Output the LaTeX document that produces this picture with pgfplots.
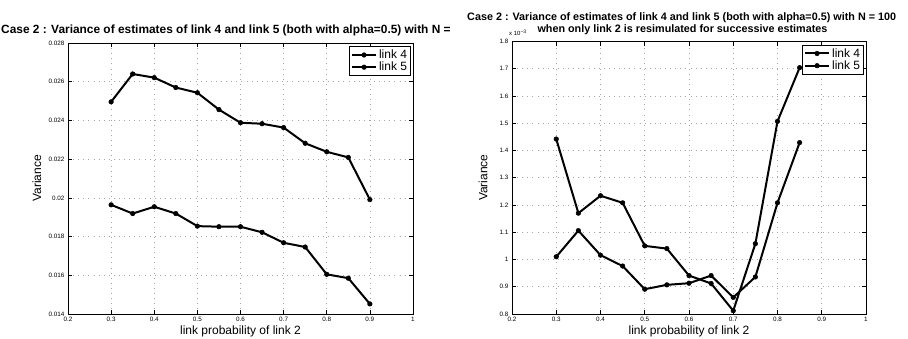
\documentclass[border=0pt]{standalone}
\usepackage{fontspec}
\setmainfont{Liberation Sans}
\usepackage{pgfplots}
\usepackage{pgfplotstable}
\pgfplotsset{compat=1.18}

\pgfplotstableread{
x y
0.30 0.02496
0.35 0.02640
0.40 0.02621
0.45 0.02570
0.50 0.02543
0.55 0.02456
0.60 0.02388
0.65 0.02383
0.70 0.02363
0.75 0.02282
0.80 0.02238
0.85 0.02209
0.90 0.01991
}\leftA
\pgfplotstableread{
x y
0.30 0.01964
0.35 0.01919
0.40 0.01954
0.45 0.01919
0.50 0.01854
0.55 0.01851
0.60 0.01851
0.65 0.01822
0.70 0.01768
0.75 0.01746
0.80 0.01605
0.85 0.01585
0.90 0.01452
}\leftB
\pgfplotstableread{
x y
0.30 1.442
0.35 1.170
0.40 1.234
0.45 1.208
0.50 1.050
0.55 1.040
0.60 0.941
0.65 0.912
0.70 0.812
0.75 1.058
0.80 1.507
0.85 1.704
}\rightA
\pgfplotstableread{
x y
0.30 1.010
0.35 1.106
0.40 1.016
0.45 0.976
0.50 0.891
0.55 0.907
0.60 0.913
0.65 0.941
0.70 0.861
0.75 0.936
0.80 1.208
0.85 1.429
}\rightB

\pgfplotsset{
  ser/.style={black, line width=2pt, mark=*, mark size=2.3pt,
      mark options={solid, fill=black, line width=0.5pt}},
  matlab/.style={
    scale only axis,
    xmin=0.2, xmax=1,
    xtick={0.2,0.3,0.4,0.5,0.6,0.7,0.8,0.9,1},
    axis line style={line width=0.8pt},
    tick style={black, line width=0.6pt},
    major tick length=4pt,
    tick align=inside,
    grid=major,
    grid style={black!35, line width=0.6pt, dash pattern=on 0.6pt off 4.5pt},
    scaled x ticks=false, scaled y ticks=false,
    ticklabel style={font=\fontsize{6.3}{7}\selectfont},
    /pgf/number format/assume math mode=true,
    xticklabel style={/pgf/number format/fixed, /pgf/number format/precision=2},
    yticklabel style={/pgf/number format/fixed, /pgf/number format/precision=3},
    label style={font=\fontsize{12}{13}\selectfont},
    legend cell align=left,
    legend style={at={(1,1)}, anchor=north east, xshift=-2pt, yshift=-3pt,
      font=\fontsize{12}{13}\selectfont, draw=black, line width=0.8pt,
      inner sep=1.5pt, row sep=-2pt},
    legend image code/.code={
      \draw[mark repeat=2,mark phase=2,##1] plot coordinates {(0pt,0pt)(12pt,0pt)(24pt,0pt)};},
  }
}

\begin{document}
\begin{tikzpicture}[x=1pt,y=1pt]
\useasboundingbox (0,0) rectangle (908,338);

% left axis
\begin{axis}[matlab, at={(68pt,24pt)}, anchor=south west,
  width=345pt, height=271pt,
  ymin=0.014, ymax=0.028,
  ytick={0.014,0.016,0.018,0.020,0.022,0.024,0.026,0.028},
  xlabel={link probability of link 2},
  ylabel={Variance},
  xlabel style={at={(axis description cs:0.5,-0.063)}, anchor=center},
  ylabel style={at={(axis description cs:-0.09,0.5)}, anchor=center, rotate=0},
]
\addplot[ser] table {\leftA}; \addlegendentry{link 4}
\addplot[ser] table {\leftB}; \addlegendentry{link 5}
\end{axis}

% right axis
\begin{axis}[matlab, at={(512pt,24pt)}, anchor=south west,
  width=354pt, height=272.5pt,
  ymin=0.8, ymax=1.8,
  ytick={0.8,0.9,1,1.1,1.2,1.3,1.4,1.5,1.6,1.7,1.8},
  xlabel={link probability of link 2},
  ylabel={Variance},
  xlabel style={at={(axis description cs:0.5,-0.063)}, anchor=center},
  ylabel style={at={(axis description cs:-0.082,0.5)}, anchor=center, rotate=0},
]
\addplot[ser] table {\rightA}; \addlegendentry{link 4}
\addplot[ser] table {\rightB}; \addlegendentry{link 5}
\end{axis}

% titles
\node[font=\bfseries\fontsize{10.8}{12}\selectfont, anchor=base west, inner sep=0pt]
  at (467,317) {Case 2 : Variance of estimates of link 4 and link 5 (both with alpha=0.5) with N = 100};
\node[font=\bfseries\fontsize{10.8}{12}\selectfont, anchor=base, inner sep=0pt]
  at (682.5,305) {when only link 2 is resimulated for successive estimates};
\node[font=\fontsize{6}{7}\selectfont, anchor=base west, inner sep=0pt]
  at (509,302) {x 10\textsuperscript{−3}};
\node[font=\bfseries\fontsize{11.9}{13}\selectfont, anchor=base west, inner sep=0pt]
  at (1,304) {Case 2 : Variance of estimates of link 4 and link 5 (both with alpha=0.5) with N =};
\end{tikzpicture}
\end{document}
